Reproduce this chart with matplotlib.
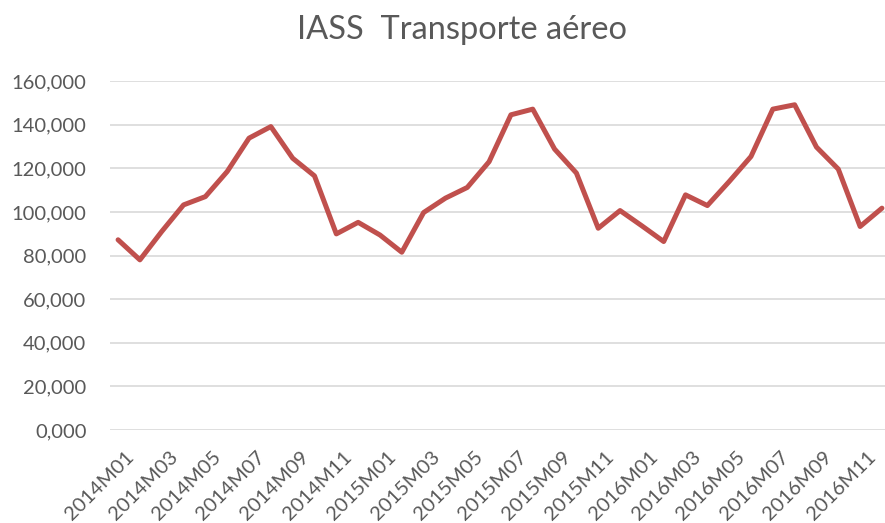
import matplotlib
matplotlib.use("Agg")
import matplotlib.pyplot as plt
from matplotlib.ticker import FuncFormatter

months = [f"{y}M{m:02d}" for y in (2014, 2015, 2016) for m in range(1, 13)]
values = [87.2, 78.0, 91.0, 103.2, 107.0, 118.5, 133.8, 139.1, 124.6, 116.5, 89.9, 95.2,
          89.4, 81.5, 99.7, 106.3, 111.2, 123.0, 144.5, 147.1, 128.8, 117.8, 92.5, 100.6,
          93.6, 86.4, 107.8, 102.9, 113.9, 125.4, 147.1, 149.1, 129.7, 119.6, 93.3, 101.7]
values = [v * 1000 for v in values]
yticks = [0, 20000, 40000, 60000, 80000, 100000, 120000, 140000, 160000]
title = "IASS  Transporte aéreo"

plt.rcParams['font.family'] = ['Lato', 'DejaVu Sans']

fig = plt.figure(figsize=(8.85, 5.23), dpi=100)
ax = fig.add_axes([110/885, (523-430)/523, 1 - 110/885, (430-81)/523])

x = list(range(len(months)))
ax.plot(x, values, color='#C0504D', lw=3.6, solid_joinstyle='round', solid_capstyle='round', zorder=3)

ax.set_ylim(0, 160000)
ax.set_xlim(-0.37, 35.14)
ax.set_yticks(yticks)
def fmt(v, pos):
    if v == 0:
        return "0,000"
    return f"{int(v):,}"
ax.yaxis.set_major_formatter(FuncFormatter(fmt))
ax.set_xticks(x[::2])
ax.set_xticklabels(months[::2], rotation=45, ha='right', rotation_mode='anchor')
ax.tick_params(axis='both', length=0, colors='#595959')
ax.tick_params(axis='y', labelsize=14.5, pad=17)
ax.tick_params(axis='x', labelsize=14.5, pad=13)
for lbl in ax.get_xticklabels():
    lbl.set_transform(lbl.get_transform() + matplotlib.transforms.ScaledTranslation(7/100, 0, fig.dpi_scale_trans))
ax.grid(axis='y', color='#D9D9D9', lw=1.2)
ax.set_axisbelow(True)
for s in ax.spines.values():
    s.set_visible(False)

fig.text(462/885, 1 - 30/523, title, ha='center', va='center', fontsize=23.5, color='#595959')

fig.savefig("out.png", dpi=100)
